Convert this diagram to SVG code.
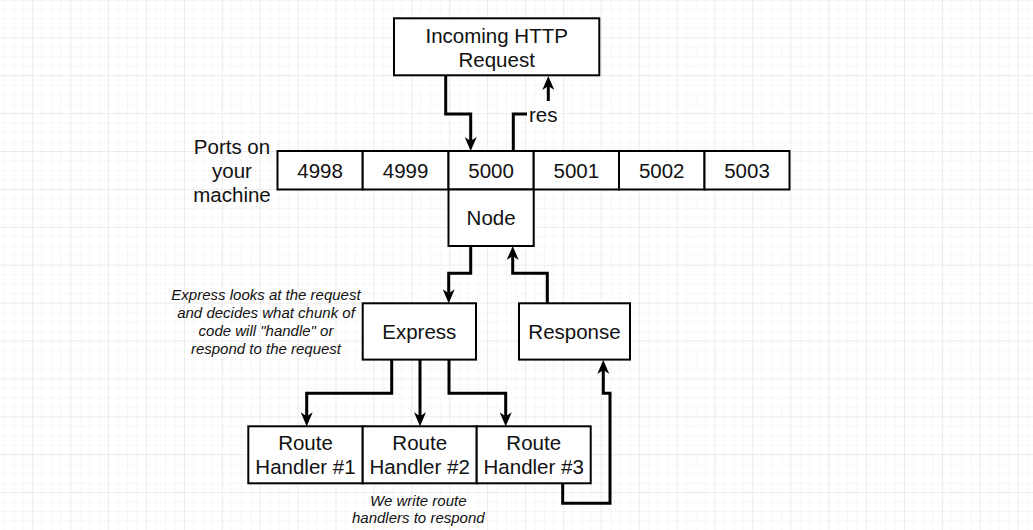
<svg xmlns="http://www.w3.org/2000/svg" width="1033" height="530" viewBox="0 0 1033 530">
  <defs>
    <pattern id="grid" patternUnits="userSpaceOnUse" x="32.3" y="37.3" width="37.9" height="37.9">
      <rect x="9.475" y="0" width="1" height="37.9" fill="#f6f6f6"/>
      <rect x="18.95" y="0" width="1" height="37.9" fill="#f6f6f6"/>
      <rect x="28.425" y="0" width="1" height="37.9" fill="#f6f6f6"/>
      <rect x="0" y="9.475" width="37.9" height="1" fill="#f6f6f6"/>
      <rect x="0" y="18.95" width="37.9" height="1" fill="#f6f6f6"/>
      <rect x="0" y="28.425" width="37.9" height="1" fill="#f6f6f6"/>
      <rect x="0" y="0" width="1" height="37.9" fill="#ebebeb"/>
      <rect x="0" y="0" width="37.9" height="1" fill="#ebebeb"/>
    </pattern>
    <marker id="arrow" viewBox="0 0 14 12" refX="4" refY="6" markerWidth="14" markerHeight="12" markerUnits="userSpaceOnUse" orient="auto">
      <path d="M0,0 L14,6 L0,12 L4,6 Z" fill="#000"/>
    </marker>
    <style>
      .box { fill: #fff; stroke: #000; stroke-width: 2; }
      .t { font-family: "Liberation Sans", Arial, sans-serif; font-size: 20.5px; fill: #111; text-anchor: middle; }
      .note { font-family: "Liberation Sans", Arial, sans-serif; font-size: 15px; font-style: italic; fill: #111; text-anchor: middle; }
      .conn { fill: none; stroke: #000; stroke-width: 3; marker-end: url(#arrow); }
    </style>
  </defs>

  <rect x="0" y="0" width="1033" height="530" fill="#fff"/>
  <rect x="0" y="0" width="1033" height="530" fill="url(#grid)"/>

  <g id="connectors">
    <path class="conn" d="M445.7,75.3 V114 H470.7 V141"/>
    <path class="conn" d="M513.3,151 V114 H548.3 V86"/>
    <path class="conn" d="M470.7,246 V273.3 H448.7 V293.3"/>
    <path class="conn" d="M547.3,303.3 V273.3 H512.7 V256"/>
    <path class="conn" d="M391.7,360 V393.3 H306.7 V416.3"/>
    <path class="conn" d="M420,360 V416.3"/>
    <path class="conn" d="M449,360 V393.3 H505.7 V416.3"/>
    <path class="conn" d="M562.7,483.3 V503.3 H610 V393.3 H603.3 V370"/>
    <rect x="527" y="101" width="32" height="25" fill="#fff"/>
    <text x="529" y="121.5" font-family="Liberation Sans, Arial, sans-serif" font-size="20.5" fill="#111">res</text>
  </g>

  <g id="incoming">
    <rect class="box" x="394" y="18.3" width="205.3" height="57"/>
    <text class="t" x="496.7" y="42.5">Incoming HTTP</text>
    <text class="t" x="496.7" y="66.5">Request</text>
  </g>

  <g id="ports-label">
    <text class="t" x="232" y="154">Ports on</text>
    <text class="t" x="232" y="178">your</text>
    <text class="t" x="232" y="202">machine</text>
  </g>

  <g id="port-4998">
    <rect class="box" x="277.5" y="151" width="85.2" height="38.5"/>
    <text class="t" x="320.1" y="178">4998</text>
  </g>
  <g id="port-4999">
    <rect class="box" x="362.7" y="151" width="85.8" height="38.5"/>
    <text class="t" x="405.6" y="178">4999</text>
  </g>
  <g id="port-5000">
    <rect class="box" x="448.5" y="151" width="85.2" height="38.5"/>
    <text class="t" x="491.1" y="178">5000</text>
  </g>
  <g id="port-5001">
    <rect class="box" x="533.7" y="151" width="85.3" height="38.5"/>
    <text class="t" x="576.3" y="178">5001</text>
  </g>
  <g id="port-5002">
    <rect class="box" x="619" y="151" width="85.5" height="38.5"/>
    <text class="t" x="661.7" y="178">5002</text>
  </g>
  <g id="port-5003">
    <rect class="box" x="704.5" y="151" width="85" height="38.5"/>
    <text class="t" x="747" y="178">5003</text>
  </g>

  <g id="node">
    <rect class="box" x="448.5" y="189.5" width="85.2" height="56.5"/>
    <text class="t" x="491.1" y="225">Node</text>
  </g>

  <g id="express">
    <rect class="box" x="362.7" y="303.3" width="113.3" height="56.3"/>
    <text class="t" x="419.3" y="339">Express</text>
  </g>

  <g id="response">
    <rect class="box" x="519" y="303.3" width="111" height="56.3"/>
    <text class="t" x="574.5" y="339">Response</text>
  </g>

  <g id="express-note">
    <text class="note" x="266" y="300">Express looks at the request</text>
    <text class="note" x="266" y="318">and decides what chunk of</text>
    <text class="note" x="266" y="336">code will "handle" or</text>
    <text class="note" x="266" y="353.5">respond to the request</text>
  </g>

  <g id="route-handler-1">
    <rect class="box" x="248.3" y="426.3" width="114.4" height="57"/>
    <text class="t" x="305.5" y="449.5">Route</text>
    <text class="t" x="305.5" y="474">Handler #1</text>
  </g>
  <g id="route-handler-2">
    <rect class="box" x="362.7" y="426.3" width="114" height="57"/>
    <text class="t" x="419.7" y="449.5">Route</text>
    <text class="t" x="419.7" y="474">Handler #2</text>
  </g>
  <g id="route-handler-3">
    <rect class="box" x="476.7" y="426.3" width="114" height="57"/>
    <text class="t" x="533.7" y="449.5">Route</text>
    <text class="t" x="533.7" y="474">Handler #3</text>
  </g>

  <g id="handlers-note">
    <text class="note" x="418.3" y="505.5">We write route</text>
    <text class="note" x="418.3" y="523">handlers to respond</text>
  </g>
</svg>
